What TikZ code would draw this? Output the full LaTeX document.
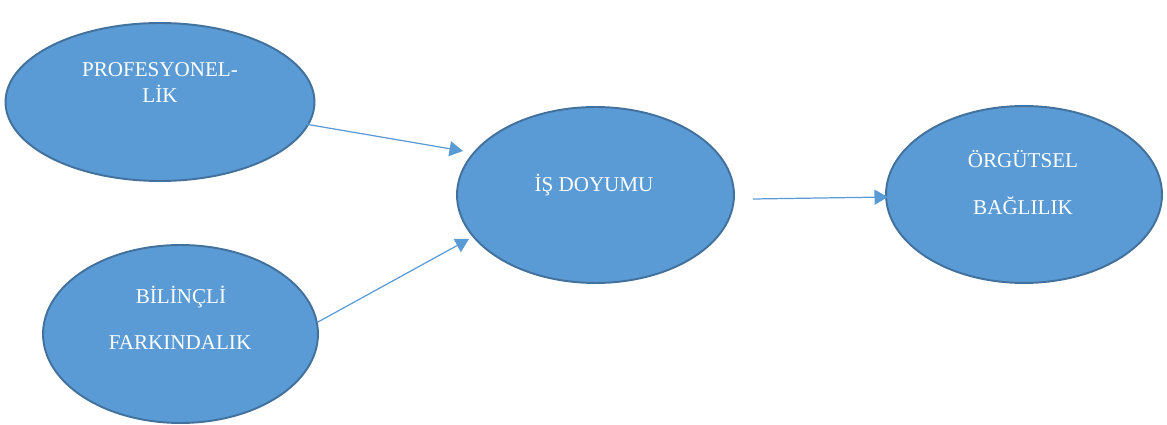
\documentclass[tikz,border=0pt]{standalone}
\usepackage{fontspec}
\setmainfont{Liberation Serif}
\usepackage{xcolor}
\usepackage{tikz}
\usetikzlibrary{shapes.geometric,arrows.meta}
\definecolor{fillblue}{HTML}{5B9BD5}
\definecolor{edgeblue}{HTML}{41719C}
\tikzset{
  oval/.style={ellipse, draw=edgeblue, fill=fillblue, line width=1.1pt, inner sep=0pt},
  lab/.style={text=white, font=\fontsize{12}{14}\selectfont, anchor=base, inner sep=0pt},
  link/.style={draw=fillblue, line width=0.7pt, -{Triangle[length=0.27cm,width=0.3cm]}},
}

\begin{document}
\begin{tikzpicture}[x=0.02cm,y=-0.02cm]
  \useasboundingbox (0,0) rectangle (1167,425);
  % ovals
  \node[oval, minimum width=6.18cm, minimum height=3.16cm] (prof) at (160,102) {};
  \node[oval, minimum width=5.5cm, minimum height=3.56cm] (bilinc) at (180.5,334) {};
  \node[oval, minimum width=5.54cm, minimum height=3.52cm] (doyum) at (595.5,195) {};
  \node[oval, minimum width=5.52cm, minimum height=3.54cm] (bagli) at (1024,194.5) {};
  % texts
  \node[lab] (prof1) at (160,76.7) {PROFESYONEL-};
  \node[lab] (prof2) at (160,102.7) {LİK};
  \node[lab] (bilinc1) at (181,304) {BİLİNÇLİ};
  \node[lab] (bilinc2) at (180,350) {FARKINDALIK};
  \node[lab] (doyum1) at (594,192) {İŞ DOYUMU};
  \node[lab] (bagli1) at (1023,168) {ÖRGÜTSEL};
  \node[lab] (bagli2) at (1023,215) {BAĞLILIK};
  % arrow ends
  \coordinate (profOut) at (305,124);
  \coordinate (doyumInA) at (463,151);
  \coordinate (bilincOut) at (318,322);
  \coordinate (doyumInB) at (469,239);
  \coordinate (doyumOut) at (753,199);
  \coordinate (bagliIn) at (888,197);
  \draw[link] (profOut) -- (doyumInA);
  \draw[link] (bilincOut) -- (doyumInB);
  \draw[link] (doyumOut) -- (bagliIn);
\end{tikzpicture}
\end{document}
